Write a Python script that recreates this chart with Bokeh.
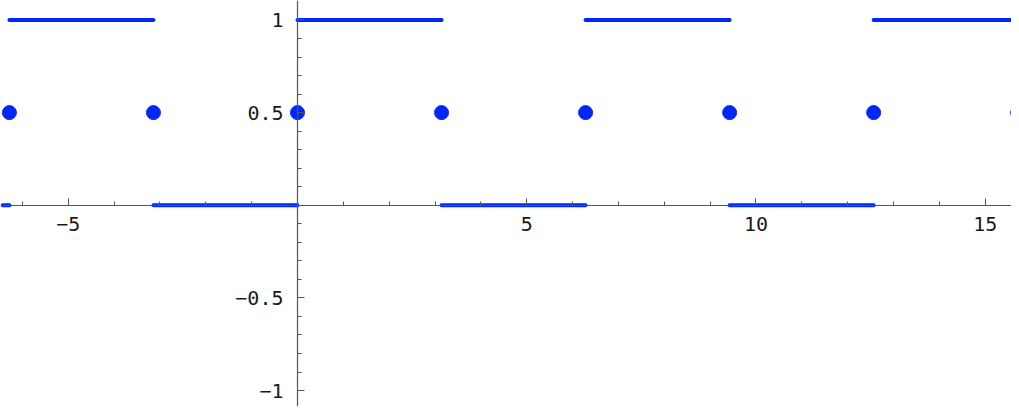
from bokeh.plotting import figure
from bokeh.models import Range1d, FixedTicker, ColumnDataSource
from bokeh.embed import file_html
from bokeh.resources import INLINE

# horizontal pieces of the square wave (start, end, level)
seg_x0 = [-6.43, -6.2832, -3.1416, 0.0, 3.1416, 6.2832, 9.4248, 12.5664]
seg_x1 = [-6.2832, -3.1416, 0.0, 3.1416, 6.2832, 9.4248, 12.5664, 15.7080]
seg_y = [0, 1, 0, 1, 0, 1, 0, 1]

# jump points (value 0.5)
dot_x = [-6.2832, -3.1416, 0.0, 3.1416, 6.2832, 9.4248, 12.5664, 15.7080]
dot_y = [0.5, 0.5, 0.5, 0.5, 0.5, 0.5, 0.5, 0.5]

x_major = [-5, 5, 10, 15]
x_minor = [-6, -4, -3, -2, -1, 1, 2, 3, 4, 6, 7, 8, 9, 11, 12, 13, 14]
y_major = [-1, -0.5, 0.5, 1]
y_minor = [-0.9, -0.8, -0.7, -0.6, -0.4, -0.3, -0.2, -0.1,
           0.1, 0.2, 0.3, 0.4, 0.6, 0.7, 0.8, 0.9]
x_labels = {-5: "\u22125", 5: "5", 10: "10", 15: "15"}
y_labels = {-1: "\u22121", -0.5: "\u22120.5", 0.5: "0.5", 1: "1"}

BLUE = "#0028f5"

p = figure(width=1011, height=406,
           x_range=Range1d(-6.478, 15.573), y_range=Range1d(-1.086, 1.105),
           output_backend="svg", toolbar_location=None, min_border=0)
p.grid.visible = False
p.outline_line_color = None
p.background_fill_color = "white"
p.border_fill_color = "white"

src = ColumnDataSource(dict(x0=seg_x0, x1=seg_x1, y=seg_y))
p.segment(x0="x0", y0="y", x1="x1", y1="y", source=src,
          line_color=BLUE, line_width=4, line_cap="round")
p.scatter(dot_x, dot_y, size=14, color=BLUE, line_color=BLUE)

for ax, major, minor, labels in ((p.xaxis[0], x_major, x_minor, x_labels),
                                 (p.yaxis[0], y_major, y_minor, y_labels)):
    ax.fixed_location = 0
    ax.ticker = FixedTicker(ticks=major, minor_ticks=minor)
    ax.major_label_overrides = labels
    ax.axis_line_color = "#555555"
    ax.axis_line_width = 1.2
    ax.major_tick_line_color = "#555555"
    ax.minor_tick_line_color = "#555555"
    ax.major_tick_in = 7
    ax.major_tick_out = 0
    ax.minor_tick_in = 4
    ax.minor_tick_out = 0
    ax.major_label_text_font = "DejaVu Sans Mono"
    ax.major_label_text_font_size = "20px"
    ax.major_label_text_color = "#1a1a1a"

p.xaxis[0].major_label_standoff = 12
p.yaxis[0].major_label_standoff = 14

open("out.html", "w").write(file_html(p, INLINE))
